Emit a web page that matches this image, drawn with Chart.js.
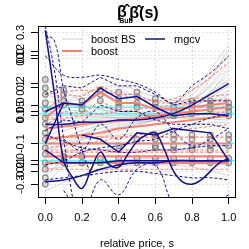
<!DOCTYPE html>
<html>
<head>
<meta charset="utf-8">
<script src="https://cdn.jsdelivr.net/npm/chart.js@4.4.1/dist/chart.umd.min.js"></script>
<style>
  html, body { margin: 0; padding: 0; background: #fff; }
  canvas { display: block; }
</style>
</head>
<body>
<canvas id="c" width="249" height="249"></canvas>
<script>
// s grids the curves are read on
const sGrid = [0, 0.1, 0.2, 0.3, 0.4, 0.5, 0.6, 0.7, 0.8, 0.9, 1.0];
const sFine = [0, 0.05, 0.1, 0.15, 0.2, 0.25, 0.3, 0.35, 0.4, 0.45, 0.5,
               0.55, 0.6, 0.65, 0.7, 0.75, 0.8, 0.85, 0.9, 0.95, 1.0];
const sCoarse = [0, 0.2, 0.4, 0.6, 0.8, 1.0];
const sEdges = [-0.04, 1.04];

// axes
const xTicks = [0, 0.2, 0.4, 0.6, 0.8, 1.0];
const xTickLabels = ['0.0', '0.2', '0.4', '0.6', '0.8', '1.0'];
const yTicks = [0.37, 0.28, 0.26, 0.25, 0.13, 0.11, 0.03, 0.00, -0.02, -0.15, -0.23, -0.25, -0.28, -0.34];
const yTickLabels = ['0.3', '0.2', '0.0', '0.1', '0.2', '0.1', '0.0', '0.05', '0.1', '-0.1', '0.0', '0.1', '-0.2', '-0.3'];

const titleMain = 'β̂(s)';
const titleAlt = 'β̂';
const titleSub = 'Bub';
const xTitle = 'relative price, s';
const legendLabels = ['boost BS', 'mgcv', 'boost'];

// mgcv fits (solid) and their bands (dashed)
const mgcvStep   = [0.00, 0.04, 0.03, 0.11, 0.06, 0.07, 0.02, -0.02, -0.01, -0.01, -0.02];
const mgcvStepHi = [0.08, 0.12, 0.11, 0.16, 0.12, 0.12, 0.08, 0.03, 0.05, 0.05, 0.05];
const mgcvStepLo = [-0.09, -0.04, -0.05, 0.03, 0.00, 0.00, -0.04, -0.06, -0.06, -0.06, -0.08];
const mgcvRise   = [-0.06, -0.06, -0.05, -0.05, -0.04, -0.04, -0.03, -0.01, 0.03, 0.08, 0.13];
const mgcvRiseHi = [0.26, 0.17, 0.16, 0.17, 0.15, 0.13, 0.09, 0.04, 0.12, 0.18, 0.26];
const mgcvRiseLo = [-0.25, -0.23, -0.19, -0.17, -0.16, -0.14, -0.13, -0.09, -0.06, -0.03, -0.01];
const mgcvWave   = [0.38, 0.08, -0.23, -0.31, -0.36, -0.27, -0.19, -0.25, -0.26, -0.20, -0.14,
                    -0.11, -0.10, -0.18, -0.28, -0.33, -0.34, -0.32, -0.28, -0.24, -0.22];
const mgcvWaveHi = [null, -0.13, -0.18, -0.06, -0.13, -0.03, 0.00, -0.09, -0.16, -0.13, -0.08];
const mgcvWaveLo = [null, -0.37, -0.48, -0.32, -0.39, -0.27, -0.25, -0.44, -0.51, -0.44, -0.39];
const mgcvSteepA = [0.40, 0.19, -0.13, -0.41, -0.60];
const mgcvSteepB = [0.36, 0.33, 0.10, -0.04, -0.18, -0.30];
const mgcvFlat   = [-0.18, -0.24, -0.24, -0.24, -0.23, -0.23, -0.23, -0.23, -0.23, -0.23, -0.23];
const mgcvFlatHi = [-0.11, -0.14, -0.17, -0.18, -0.19, -0.19, -0.18, -0.18, -0.17, -0.16, -0.16];
const mgcvFlatLo = [-0.32, -0.31, -0.30, -0.29, -0.28, -0.28, -0.29, -0.30, -0.31, -0.31, -0.32];
const mgcvLow    = [-0.33, -0.32, -0.30, -0.27, -0.25, -0.24, -0.24, -0.23, -0.23, -0.23, -0.23];
const mgcvMid    = [null, null, -0.11, -0.13, -0.19, -0.10, -0.11, -0.08, -0.09, -0.10, -0.23];
const mgcvKink   = [-0.15, 0.04];

// boost fits (solid) and their bands (dashed)
const boostStep   = [-0.03, 0.04, 0.03, 0.09, 0.04, 0.04, 0.01, 0.01, 0.02, 0.03, 0.04];
const boostStepHi = [0.00, 0.08, 0.07, 0.12, 0.08, 0.08, 0.04, 0.04, 0.06, 0.07, 0.08];
const boostStepLo = [-0.07, 0.00, -0.01, 0.05, 0.00, 0.00, -0.03, -0.03, -0.02, -0.01, 0.00];
const boostRise   = [-0.08, -0.07, -0.06, -0.05, -0.045, -0.035, -0.02, -0.01, 0.00, 0.01, 0.02];
const boostRise2  = [-0.13, -0.12, -0.11, -0.10, -0.08, -0.07, -0.06, -0.05, -0.04, -0.03, -0.02];
const boostRiseHi = [-0.03, -0.03, -0.02, -0.01, 0.00, 0.01, 0.02, 0.03, 0.04, 0.05, 0.06];
const boostRiseLo = [-0.17, -0.16, -0.15, -0.14, -0.12, -0.11, -0.10, -0.09, -0.08, -0.07, -0.06];
const boostUpper  = [0.08, 0.09, 0.10, 0.09, 0.08, 0.06, 0.05, 0.06, 0.10, 0.16, 0.23];
const boostFlat   = [-0.15, -0.15, -0.15, -0.15, -0.15, -0.15, -0.15, -0.15, -0.15, -0.15, -0.15];
const boostFlatHi = [-0.12, -0.12, -0.12, -0.12, -0.12, -0.12, -0.12, -0.12, -0.12, -0.12, -0.12];
const boostFlatLo = [-0.18, -0.18, -0.18, -0.18, -0.18, -0.18, -0.18, -0.18, -0.18, -0.18, -0.18];
const boostBandA  = [-0.21, -0.21, -0.21, -0.21, -0.21, -0.21, -0.21, -0.21, -0.21, -0.21, -0.21];
const boostBandB  = [-0.24, -0.24, -0.24, -0.24, -0.24, -0.24, -0.24, -0.24, -0.24, -0.24, -0.24];
const boostBandHi = [-0.19, -0.19, -0.19, -0.19, -0.19, -0.19, -0.19, -0.19, -0.19, -0.19, -0.19];
const boostBandLo = [-0.27, -0.27, -0.27, -0.27, -0.27, -0.27, -0.27, -0.27, -0.27, -0.27, -0.27];

// bootstrap curves, read at sCoarse
const bsCurves = [
  [0.08, 0.03, 0.01, 0.00, 0.10, 0.31],
  [0.05, 0.02, 0.00, -0.01, 0.08, 0.26],
  [0.02, 0.00, -0.02, -0.01, 0.05, 0.22],
  [-0.02, -0.02, -0.03, -0.02, 0.03, 0.17],
  [-0.04, -0.03, -0.03, -0.02, 0.02, 0.12],
  [-0.06, -0.04, -0.04, -0.03, 0.00, 0.08],
  [-0.09, -0.05, -0.04, -0.03, -0.02, 0.03],
  [-0.11, -0.07, -0.04, -0.03, -0.03, -0.02],
  [-0.16, -0.09, -0.05, -0.03, -0.03, -0.04],
  [-0.20, -0.11, -0.06, -0.04, -0.02, 0.01],
  [-0.25, -0.13, -0.07, -0.04, 0.00, 0.10],
  [-0.30, -0.16, -0.08, -0.04, 0.01, 0.19],
  [0.11, 0.01, -0.03, -0.02, 0.05, 0.29],
  [-0.34, -0.18, -0.09, -0.04, 0.03, 0.15],
  [0.15, 0.05, -0.01, -0.02, 0.02, 0.05],
  [-0.18, -0.13, -0.11, -0.09, -0.06, -0.05],
  [-0.20, -0.18, -0.18, -0.18, -0.17, -0.16],
  [-0.27, -0.25, -0.23, -0.22, -0.23, -0.25],
  [-0.37, -0.30, -0.26, -0.25, -0.26, -0.30],
  [0.02, 0.06, 0.09, 0.05, 0.04, 0.14],
  [-0.01, 0.08, 0.12, 0.07, 0.06, 0.20]
];

// bootstrap point columns at sGrid
const bsPoints = [
  [0.15, 0.11, 0.08, 0.04, 0.01, -0.03, -0.06, -0.10, -0.13, -0.17, -0.20, -0.24, -0.27, -0.31, -0.34],
  [0.10, 0.08, 0.05, 0.03, -0.21, -0.23, -0.24],
  [0.05, 0.03, 0.01, -0.21, -0.24],
  [0.10, 0.08, 0.05, -0.22, -0.24],
  [0.09, 0.06, 0.04, 0.02, -0.16, -0.22, -0.24],
  [0.09, 0.07, 0.04, 0.02, -0.13, -0.22, -0.24],
  [0.06, 0.04, 0.02, -0.11, -0.13, -0.16, -0.17, -0.22, -0.24],
  [0.02, 0.00, -0.02, -0.11, -0.13, -0.16, -0.18, -0.22, -0.24],
  [0.05, 0.03, 0.01, -0.01, -0.11, -0.13, -0.16, -0.18, -0.22, -0.24],
  [0.05, 0.03, 0.01, -0.11, -0.13, -0.16, -0.18, -0.22, -0.24],
  [0.04, 0.02, 0.00, -0.02, -0.11, -0.13, -0.16, -0.22, -0.24]
];

// reference levels (cyan)
const refLevels = [0.02, -0.01, -0.15, -0.23];

const NAVY = '#10108a';
const SALMON = '#fa8072';
const GREY = 'rgba(160,160,160,0.55)';
const CYAN = 'rgba(0,240,240,0.6)';

Chart.defaults.font.family = '"Liberation Sans", Arial, sans-serif';
Chart.defaults.font.size = 11;
Chart.defaults.color = '#000';

const datasets = [];
function xy(xs, ys) {
  return xs.map((x, i) => ({ x: x, y: ys[i] })).filter(p => p.y !== null && p.y !== undefined);
}
function addLine(xs, ys, color, width, dash, tension, order) {
  datasets.push({
    type: 'line', data: xy(xs, ys), borderColor: color, borderWidth: width,
    borderDash: dash || [], pointRadius: 0, tension: tension || 0, fill: false, order: order
  });
}

bsCurves.forEach(c => addLine(sCoarse, c, GREY, 0.8, null, 0.4, 7));

const pointData = [];
bsPoints.forEach((col, i) => col.forEach(v => pointData.push({ x: sGrid[i], y: v })));
datasets.push({
  type: 'line', data: pointData, showLine: false, pointRadius: 2.8, pointBorderWidth: 1.2,
  pointBorderColor: 'rgba(95,95,95,0.7)', pointBackgroundColor: 'rgba(170,170,170,0.35)', order: 6
});

refLevels.forEach(v => addLine(sEdges, [v, v], CYAN, 1.6, null, 0, 5));

// boost
const dashB = [3, 2];
addLine(sGrid, boostStepHi, SALMON, 1.1, dashB, 0, 4);
addLine(sGrid, boostStepLo, SALMON, 1.1, dashB, 0, 4);
addLine(sGrid, boostRiseHi, SALMON, 1.1, dashB, 0.4, 4);
addLine(sGrid, boostRiseLo, SALMON, 1.1, dashB, 0.4, 4);
addLine(sGrid, boostUpper, SALMON, 1.1, dashB, 0.4, 4);
addLine(sGrid, boostFlatHi, SALMON, 1.1, dashB, 0, 4);
addLine(sGrid, boostFlatLo, SALMON, 1.1, dashB, 0, 4);
addLine(sGrid, boostBandHi, SALMON, 1.1, dashB, 0, 4);
addLine(sGrid, boostBandLo, SALMON, 1.1, dashB, 0, 4);
addLine(sGrid, boostStep, SALMON, 2, null, 0, 3);
addLine(sGrid, boostRise, SALMON, 2, null, 0.4, 3);
addLine(sGrid, boostRise2, SALMON, 2, null, 0.4, 3);
addLine(sGrid, boostFlat, SALMON, 2, null, 0, 3);
addLine(sGrid, boostBandA, SALMON, 2.2, null, 0, 3);
addLine(sGrid, boostBandB, SALMON, 2.2, null, 0, 3);

// mgcv
const dashM = [3, 2];
addLine(sGrid, mgcvStepHi, NAVY, 1, dashM, 0, 2);
addLine(sGrid, mgcvStepLo, NAVY, 1, dashM, 0, 2);
addLine(sGrid, mgcvRiseHi, NAVY, 1, dashM, 0.4, 2);
addLine(sGrid, mgcvRiseLo, NAVY, 1, dashM, 0.4, 2);
addLine(sGrid, mgcvWaveHi, NAVY, 1, dashM, 0.4, 2);
addLine(sGrid, mgcvWaveLo, NAVY, 1, dashM, 0.4, 2);
addLine(sFine, mgcvSteepA, NAVY, 1, dashM, 0.4, 2);
addLine(sFine, mgcvSteepB, NAVY, 1, dashM, 0.4, 2);
addLine(sGrid, mgcvFlatHi, NAVY, 1, dashM, 0.4, 2);
addLine(sGrid, mgcvFlatLo, NAVY, 1, dashM, 0.4, 2);
addLine(sGrid, mgcvStep, NAVY, 1.5, null, 0, 1);
addLine(sGrid, mgcvRise, NAVY, 1.5, null, 0.4, 1);
addLine(sFine, mgcvWave, NAVY, 1.5, null, 0.4, 1);
addLine(sGrid, mgcvFlat, NAVY, 1.5, null, 0, 1);
addLine(sGrid, mgcvLow, NAVY, 1.5, null, 0.4, 1);
addLine(sGrid, mgcvMid, NAVY, 1.5, null, 0, 1);
addLine(sGrid, mgcvKink, NAVY, 1.5, null, 0, 1);

// box, rotated y labels, legend and title, R style
const decor = {
  id: 'decor',
  afterDraw(chart) {
    const { ctx, chartArea: a } = chart;
    const yScale = chart.scales.y;
    ctx.save();
    ctx.strokeStyle = '#000';
    ctx.lineWidth = 1;
    ctx.strokeRect(a.left + 0.5, a.top + 0.5, a.right - a.left - 1, a.bottom - a.top);

    ctx.fillStyle = '#000';
    ctx.font = '11px "Liberation Sans", Arial, sans-serif';
    ctx.textAlign = 'center';
    ctx.textBaseline = 'middle';
    yTicks.forEach((v, i) => {
      ctx.save();
      ctx.translate(a.left - 17, yScale.getPixelForValue(v));
      ctx.rotate(-Math.PI / 2);
      ctx.fillText(yTickLabels[i], 0, 0);
      ctx.restore();
    });

    // legend
    const row1 = a.top + 13, row2 = a.top + 25;
    const items = [
      { label: legendLabels[0], color: '#d0d0d0', w: 1, x: a.left + 24, y: row1 },
      { label: legendLabels[1], color: NAVY, w: 1.5, x: a.left + 107, y: row1 },
      { label: legendLabels[2], color: SALMON, w: 2, x: a.left + 24, y: row2 }
    ];
    ctx.textAlign = 'left';
    items.forEach(it => {
      ctx.strokeStyle = it.color;
      ctx.lineWidth = it.w;
      ctx.beginPath();
      ctx.moveTo(it.x, it.y);
      ctx.lineTo(it.x + 20, it.y);
      ctx.stroke();
      ctx.fillText(it.label, it.x + 29, it.y + 0.5);
    });

    // title
    const cx = (a.left + a.right) / 2;
    ctx.textAlign = 'center';
    ctx.font = 'bold 16px "Liberation Sans", Arial, sans-serif';
    ctx.fillText(titleMain, cx + 7, 14);
    ctx.fillText(titleAlt, cx - 15, 13);
    ctx.font = 'bold 7px "Liberation Sans", Arial, sans-serif';
    ctx.fillText(titleSub, cx - 11, 21);
    ctx.restore();
  }
};

new Chart(document.getElementById('c'), {
  type: 'line',
  data: { datasets: datasets },
  options: {
    responsive: false,
    animation: false,
    events: [],
    layout: { padding: { top: 26, right: 13, left: 0, bottom: 0 } },
    plugins: { legend: { display: false }, tooltip: { enabled: false }, title: { display: false } },
    scales: {
      x: {
        type: 'linear', min: -0.04, max: 1.04,
        afterBuildTicks: s => { s.ticks = xTicks.map(v => ({ value: v })); },
        afterFit: s => { s.height = 52; },
        ticks: { callback: (v, i) => xTickLabels[i], padding: 7, maxRotation: 0, autoSkip: false, color: '#000' },
        grid: { color: '#dcdcdc', tickColor: '#000', tickWidth: 1, tickLength: 7, tickBorderDash: [] },
        border: { display: false, dash: [2, 2] },
        title: { display: true, text: xTitle, color: '#000', padding: { top: 0, bottom: -2 }, font: { size: 11 } }
      },
      y: {
        type: 'linear', min: -0.4, max: 0.4,
        afterBuildTicks: s => { s.ticks = yTicks.map(v => ({ value: v })); },
        afterFit: s => { s.width = 38; },
        ticks: { display: false, autoSkip: false },
        grid: { color: '#e4e4e4', tickColor: '#000', tickWidth: 1, tickLength: 7, tickBorderDash: [] },
        border: { display: false, dash: [2, 2] }
      }
    }
  },
  plugins: [decor]
});
</script>
</body>
</html>
